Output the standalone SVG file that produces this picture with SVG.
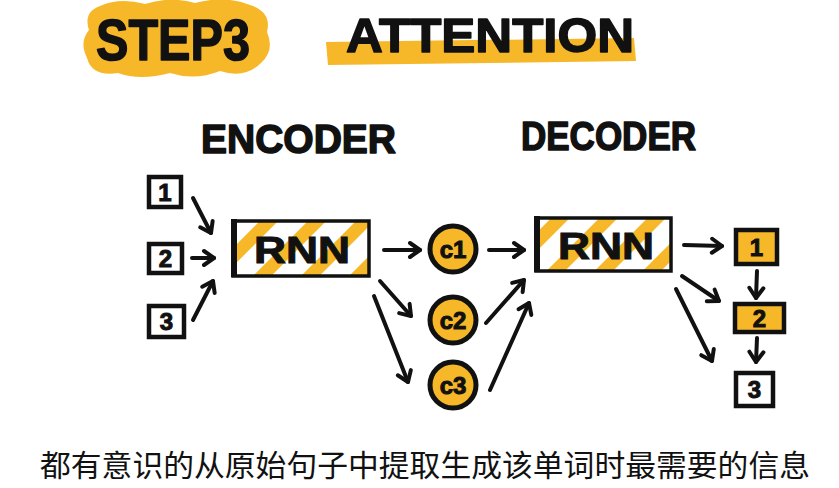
<svg xmlns="http://www.w3.org/2000/svg" width="839" height="488" viewBox="0 0 839 488">
<style>
.hand{font-family:"Liberation Sans","DejaVu Sans",sans-serif;font-weight:bold;fill:#111;stroke:#111;stroke-width:1.5;stroke-linejoin:round;}
.lbl{font-family:"Liberation Sans","DejaVu Sans",sans-serif;font-weight:bold;fill:#111;stroke:#111;stroke-width:1;text-anchor:middle;}
.box{fill:#fff;stroke:#111;stroke-width:4.5;}
.ybox{fill:#F6B828;stroke:#111;stroke-width:4.5;}
.circ{fill:#F6B828;stroke:#111;stroke-width:5;}
.rnn{fill:url(#stripes);stroke:#111;stroke-width:3.5;}
.arr{stroke:#111;stroke-width:4;fill:none;stroke-linecap:round;marker-end:url(#ah);}
.cap{font-family:"Noto Sans CJK SC","Noto Sans",sans-serif;fill:#111;font-size:30px;}
</style>
<defs>
<pattern id="stripes" patternUnits="userSpaceOnUse" width="34" height="34" patternTransform="rotate(45)">
<rect width="34" height="34" fill="#fff"/>
<rect width="13" height="34" fill="#F6B828"/>
</pattern>
<marker id="ah" markerUnits="userSpaceOnUse" markerWidth="20" markerHeight="20" viewBox="0 0 20 20" refX="15" refY="10" orient="auto">
<path d="M5,3 L15,10 L5,17" fill="none" stroke="#111" stroke-width="4" stroke-linejoin="round" stroke-linecap="round"/>
</marker>
</defs>
<rect width="839" height="488" fill="#fff"/>

<g id="title-step3">
<path d="M100,6 Q120,-3 145,4 Q170,-4 195,3 Q225,-5 250,5 Q272,12 267,32 Q275,50 261,63 Q245,79 220,71 Q195,81 170,73 Q140,81 118,73 Q92,77 87,58 Q79,42 89,30 Q83,12 100,6 Z" fill="#F6B828"/>
<text class="hand" x="96" y="60" font-size="58" textLength="154" lengthAdjust="spacingAndGlyphs">STEP3</text>
</g>
<g id="title-attention">
<path d="M326,42 L634,38 L636,61 L328,65 Z" fill="#F6B828"/>
<text class="hand" x="346" y="52" font-size="48" textLength="288" lengthAdjust="spacingAndGlyphs">ATTENTION</text>
</g>

<g id="label-encoder"><text class="hand" x="201" y="153" font-size="40" textLength="195" lengthAdjust="spacingAndGlyphs">ENCODER</text></g>
<g id="label-decoder"><text class="hand" x="521" y="150" font-size="40" textLength="175" lengthAdjust="spacingAndGlyphs">DECODER</text></g>

<g id="in1"><rect class="box" x="149" y="177" width="32" height="30"/><text class="lbl" x="165" y="201" font-size="24">1</text></g>
<g id="in2"><rect class="box" x="149" y="244" width="33" height="29"/><text class="lbl" x="165.5" y="267" font-size="24">2</text></g>
<g id="in3"><rect class="box" x="149" y="306" width="35" height="31"/><text class="lbl" x="166.5" y="330" font-size="24">3</text></g>

<g id="enc-rnn">
<rect class="rnn" x="233" y="221" width="136" height="55"/>
<line x1="234" y1="219" x2="234" y2="277" stroke="#111" stroke-width="6"/>
<text class="lbl" x="302" y="263" font-size="36" textLength="96" lengthAdjust="spacingAndGlyphs">RNN</text>
</g>

<g id="c1"><circle class="circ" cx="453" cy="249" r="23"/><text class="lbl" x="453" y="258" font-size="24">c1</text></g>
<g id="c2"><circle class="circ" cx="453" cy="320" r="23"/><text class="lbl" x="453" y="329" font-size="24">c2</text></g>
<g id="c3"><circle class="circ" cx="453" cy="385" r="23"/><text class="lbl" x="453" y="394" font-size="24">c3</text></g>

<g id="dec-rnn">
<rect class="rnn" x="536" y="218" width="135" height="53"/>
<line x1="537" y1="216" x2="537" y2="272" stroke="#111" stroke-width="6"/>
<text class="lbl" x="606" y="259" font-size="36" textLength="96" lengthAdjust="spacingAndGlyphs">RNN</text>
</g>

<g id="out1"><rect class="ybox" x="736" y="230" width="41" height="34"/><text class="lbl" x="756.5" y="256" font-size="24">1</text></g>
<g id="out2"><rect class="ybox" x="735" y="304" width="49" height="28"/><text class="lbl" x="759.5" y="327" font-size="24">2</text></g>
<g id="out3"><rect class="box" x="736" y="373" width="37" height="33"/><text class="lbl" x="754.5" y="398" font-size="24">3</text></g>

<g id="connectors">
<line class="arr" x1="193" y1="198" x2="211" y2="233"/>
<line class="arr" x1="192" y1="258" x2="214" y2="258"/>
<line class="arr" x1="193" y1="320" x2="213" y2="281"/>
<line class="arr" x1="384" y1="250" x2="420" y2="250"/>
<line class="arr" x1="380" y1="281" x2="411" y2="316"/>
<line class="arr" x1="374" y1="296" x2="408" y2="382"/>
<line class="arr" x1="489" y1="250" x2="524" y2="250"/>
<line class="arr" x1="486" y1="323" x2="524" y2="280"/>
<line class="arr" x1="490" y1="390" x2="529" y2="303"/>
<line class="arr" x1="684" y1="245" x2="722" y2="246"/>
<line class="arr" x1="682" y1="276" x2="719" y2="301"/>
<line class="arr" x1="676" y1="289" x2="712" y2="361"/>
<line class="arr" x1="757" y1="271" x2="756" y2="298"/>
<line class="arr" x1="757" y1="338" x2="756" y2="362"/>
</g>

<text class="cap" x="40" y="476" textLength="770" lengthAdjust="spacingAndGlyphs">都有意识的从原始句子中提取生成该单词时最需要的信息</text>
</svg>
